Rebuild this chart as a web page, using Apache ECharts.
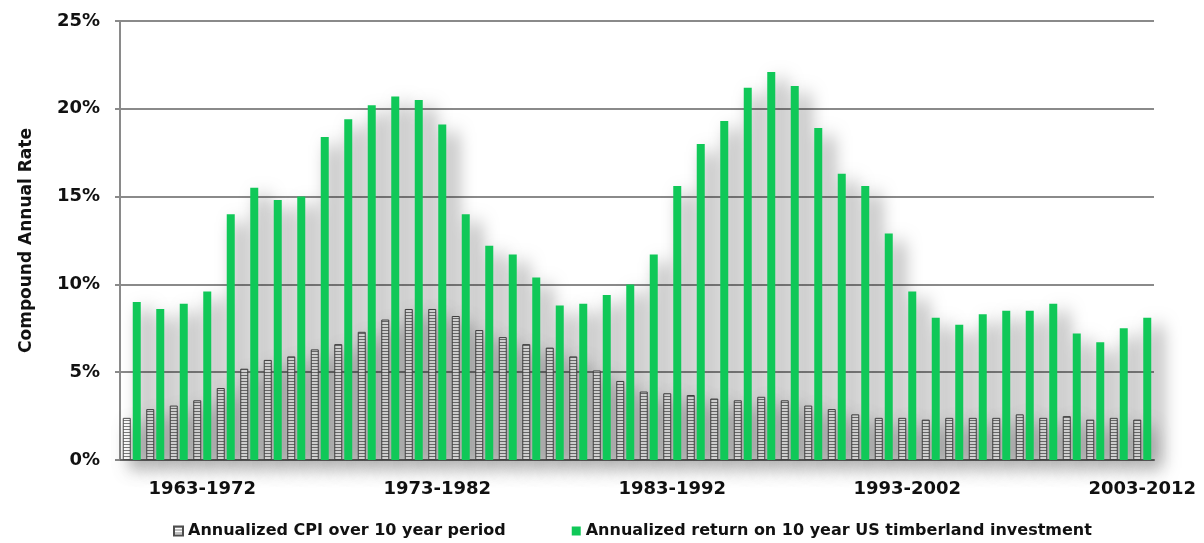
<!DOCTYPE html>
<html>
<head>
<meta charset="utf-8">
<script src="https://cdn.jsdelivr.net/npm/echarts@6/dist/echarts.min.js"></script>
<style>
  html, body { margin: 0; padding: 0; background: #ffffff; }
  #chart { width: 1204px; height: 543px; }
</style>
</head>
<body>
<div id="chart"></div>
<script>
// Rolling 10-year windows, 1960-1969 through 2003-2012
const periods = [
  '1960-1969','1961-1970','1962-1971','1963-1972','1964-1973','1965-1974','1966-1975','1967-1976',
  '1968-1977','1969-1978','1970-1979','1971-1980','1972-1981','1973-1982','1974-1983','1975-1984',
  '1976-1985','1977-1986','1978-1987','1979-1988','1980-1989','1981-1990','1982-1991','1983-1992',
  '1984-1993','1985-1994','1986-1995','1987-1996','1988-1997','1989-1998','1990-1999','1991-2000',
  '1992-2001','1993-2002','1994-2003','1995-2004','1996-2005','1997-2006','1998-2007','1999-2008',
  '2000-2009','2001-2010','2002-2011','2003-2012'
];

// Annualized CPI over each 10-year period (%)
const cpiRate = [
  2.4, 2.9, 3.1, 3.4, 4.1, 5.2, 5.7, 5.9,
  6.3, 6.6, 7.3, 8.0, 8.6, 8.6, 8.2, 7.4,
  7.0, 6.6, 6.4, 5.9, 5.1, 4.5, 3.9, 3.8,
  3.7, 3.5, 3.4, 3.6, 3.4, 3.1, 2.9, 2.6,
  2.4, 2.4, 2.3, 2.4, 2.4, 2.4, 2.6, 2.4,
  2.5, 2.3, 2.4, 2.3
];

// Annualized return on 10-year US timberland investment (%)
const timberReturn = [
  9.0, 8.6, 8.9, 9.6, 14.0, 15.5, 14.8, 15.0,
  18.4, 19.4, 20.2, 20.7, 20.5, 19.1, 14.0, 12.2,
  11.7, 10.4, 8.8, 8.9, 9.4, 10.0, 11.7, 15.6,
  18.0, 19.3, 21.2, 22.1, 21.3, 18.9, 16.3, 15.6,
  12.9, 9.6, 8.1, 7.7, 8.3, 8.5, 8.5, 8.9,
  7.2, 6.7, 7.5, 8.1
];

const yTicks = { min: 0, max: 25, step: 5 };

const seriesNames = [
  'Annualized CPI over 10 year period',
  'Annualized return on 10 year US timberland investment'
];

// Horizontal-stripe fill used for the CPI columns
function stripeFill() {
  const c = document.createElement('canvas');
  c.width = 8; c.height = 3;
  const g = c.getContext('2d');
  g.fillStyle = '#ffffff';
  g.fillRect(0, 0, 8, 3);
  g.fillStyle = '#808080';
  g.fillRect(0, 0, 8, 1);
  return { image: c, repeat: 'repeat' };
}

// Soft cast shadow shared by both column series
const castShadow = {
  shadowColor: 'rgba(0,0,0,0.5)',
  shadowBlur: 18,
  shadowOffsetX: 9,
  shadowOffsetY: 8
};

const FONT = 'DejaVu Sans';
const chart = echarts.init(document.getElementById('chart'), null, { renderer: 'canvas' });

chart.setOption({
  backgroundColor: '#ffffff',
  animation: false,
  grid: { left: 120, right: 50, top: 21, bottom: 83, containLabel: false },
  legend: {
    left: 168,
    top: 518,
    itemWidth: 9,
    itemHeight: 9,
    itemGap: 66,
    icon: 'rect',
    textStyle: { fontFamily: FONT, fontWeight: 'bold', fontSize: 16, color: '#111' },
    data: seriesNames
  },
  xAxis: {
    type: 'category',
    data: periods,
    axisLine: { lineStyle: { color: '#707070', width: 2 } },
    axisTick: { show: false },
    axisLabel: {
      interval: (i) => i % 10 === 3,
      margin: 20,
      fontFamily: FONT,
      fontWeight: 'bold',
      fontSize: 18,
      color: '#111'
    }
  },
  yAxis: {
    type: 'value',
    min: yTicks.min,
    max: yTicks.max,
    interval: yTicks.step,
    name: 'Compound Annual Rate',
    nameLocation: 'middle',
    nameGap: 85,
    nameTextStyle: { fontFamily: FONT, fontWeight: 'bold', fontSize: 17, color: '#111' },
    axisLine: { show: true, lineStyle: { color: '#8a8a8a', width: 2 } },
    axisTick: { show: true, length: 5, lineStyle: { color: '#8a8a8a', width: 2 } },
    splitLine: { lineStyle: { color: '#8a8a8a', width: 2 } },
    axisLabel: {
      margin: 20,
      formatter: '{value}%',
      fontFamily: FONT,
      fontWeight: 'bold',
      fontSize: 18,
      color: '#111'
    }
  },
  series: [
    {
      name: seriesNames[0],
      type: 'bar',
      data: cpiRate,
      barWidth: 8,
      barGap: '25%',
      itemStyle: Object.assign({
        color: stripeFill(),
        borderColor: '#4d4d4d',
        borderWidth: 1
      }, castShadow)
    },
    {
      name: seriesNames[1],
      type: 'bar',
      data: timberReturn,
      barWidth: 8,
      itemStyle: Object.assign({ color: '#10c858' }, castShadow)
    }
  ]
});
</script>
</body>
</html>
